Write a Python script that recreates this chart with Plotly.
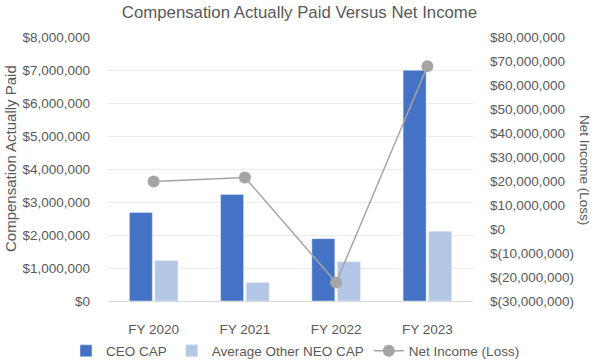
import plotly.graph_objects as go

categories = ["FY 2020", "FY 2021", "FY 2022", "FY 2023"]
ceo_cap = [2680000, 3230000, 1890000, 6990000]
neo_cap = [1230000, 560000, 1190000, 2110000]
net_income = [19800000, 21500000, -22300000, 67800000]

left_tickvals = [0, 1000000, 2000000, 3000000, 4000000, 5000000, 6000000, 7000000, 8000000]
left_ticktext = ["$0", "$1,000,000", "$2,000,000", "$3,000,000", "$4,000,000",
                 "$5,000,000", "$6,000,000", "$7,000,000", "$8,000,000"]
right_tickvals = [-30000000, -20000000, -10000000, 0, 10000000, 20000000, 30000000,
                  40000000, 50000000, 60000000, 70000000, 80000000]
right_ticktext = ["$(30,000,000)", "$(20,000,000)", "$(10,000,000)", "$0", "$10,000,000",
                  "$20,000,000", "$30,000,000", "$40,000,000", "$50,000,000",
                  "$60,000,000", "$70,000,000", "$80,000,000"]

FONT = "Liberation Sans, Arial, sans-serif"
GRAY = "#595959"

fig = go.Figure()
fig.add_trace(go.Bar(x=categories, y=ceo_cap, name="CEO CAP", marker_color="#4472C4",
                     yaxis="y"))
fig.add_trace(go.Bar(x=categories, y=neo_cap, name="Average Other NEO CAP",
                     marker_color="#B4C7E7", yaxis="y"))
fig.add_trace(go.Scatter(x=categories, y=net_income, name="Net Income (Loss)",
                         mode="lines+markers", yaxis="y2",
                         line=dict(color="#A5A5A5", width=1.5),
                         marker=dict(color="#A5A5A5", size=12)))

fig.update_layout(
    width=599, height=361,
    margin=dict(l=108, r=126, t=37, b=60, autoexpand=False),
    paper_bgcolor="white", plot_bgcolor="white",
    font=dict(family=FONT, color=GRAY, size=13.5),
    title=dict(text="Compensation Actually Paid Versus Net Income",
               x=0.5, xanchor="center", y=1 - 12 / 361, yanchor="middle",
               font=dict(size=16.8, color=GRAY, family=FONT)),
    barmode="group", bargap=0.44, bargroupgap=0.1,
    xaxis=dict(showgrid=False, showline=True, linecolor="#d9d9d9", linewidth=1,
               ticks="", ticklabelstandoff=16, automargin=False,
               tickfont=dict(size=13.5, color=GRAY)),
    yaxis=dict(range=[0, 8000000], tickvals=left_tickvals, ticktext=left_ticktext,
               showgrid=True, gridcolor="#ebebeb", gridwidth=1, zeroline=False,
               showline=False, ticks="", ticklabelstandoff=17, automargin=False,
               tickfont=dict(size=13.5, color=GRAY)),
    yaxis2=dict(range=[-30000000, 80000000], tickvals=right_tickvals,
                ticktext=right_ticktext, overlaying="y", side="right",
                showgrid=False, zeroline=False, showline=False, ticks="",
                ticklabelstandoff=16, automargin=False,
                tickfont=dict(size=13.5, color=GRAY)),
    legend=dict(orientation="h", xref="paper", yref="paper",
                x=(66 - 108) / 365, xanchor="left", y=(301 - 351) / 264,
                yanchor="middle", font=dict(size=13.5, color=GRAY),
                traceorder="normal"),
    annotations=[
        dict(text="Compensation Actually Paid", xref="paper", yref="paper",
             x=(10 - 108) / 365, y=(301 - 159) / 264, textangle=-90,
             showarrow=False, xanchor="center", yanchor="middle",
             font=dict(size=15, color=GRAY, family=FONT)),
        dict(text="Net Income (Loss)", xref="paper", yref="paper",
             x=(585 - 108) / 365, y=(301 - 170) / 264, textangle=90,
             showarrow=False, xanchor="center", yanchor="middle",
             font=dict(size=13.5, color=GRAY, family=FONT)),
    ],
)

fig.write_html("out.html", config={"displayModeBar": False},
               post_script="document.body.style.margin='0';")
